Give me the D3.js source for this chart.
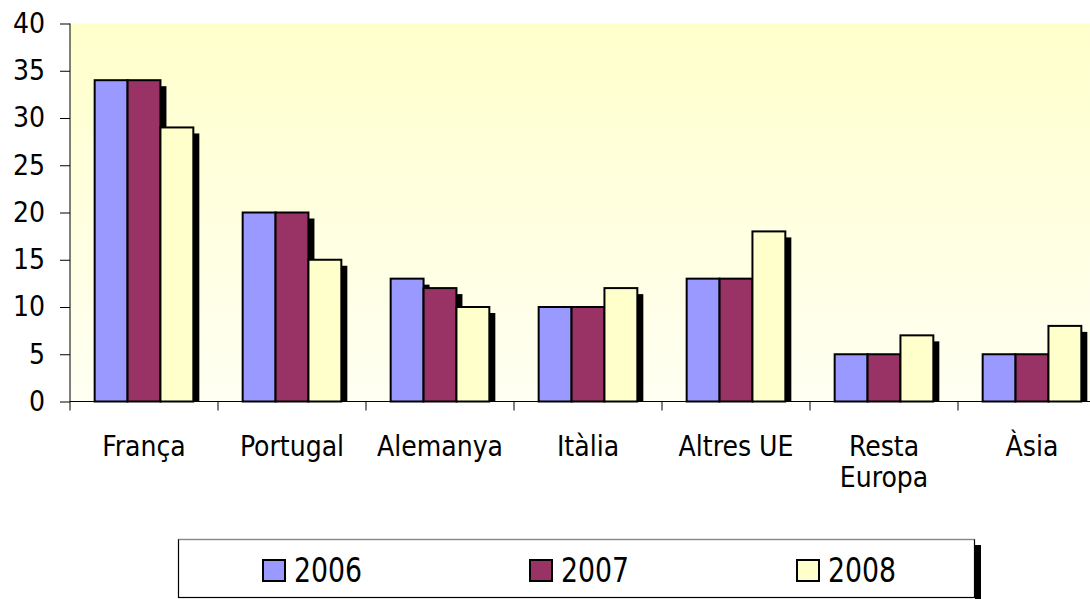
<!DOCTYPE html>
<html>
<head>
<meta charset="utf-8">
<script src="https://cdn.jsdelivr.net/npm/d3@7"></script>
<style>
  html, body { margin: 0; padding: 0; background: #ffffff; }
  svg { display: block; }
  text { font-family: "DejaVu Sans Condensed", "DejaVu Sans", sans-serif; fill: #000; }
</style>
</head>
<body>
<svg id="chart" width="1090" height="599"></svg>
<script>
const categories = ["França", "Portugal", "Alemanya", "Itàlia", "Altres UE", "Resta Europa", "Àsia"];
const years = ["2006", "2007", "2008"];
const values2006 = [34, 20, 13, 10, 13, 5, 5];
const values2007 = [34, 20, 12, 10, 13, 5, 5];
const values2008 = [29, 15, 10, 12, 18, 7, 8];
const yTicks = [0, 5, 10, 15, 20, 25, 30, 35, 40];
const colors = ["#9999FF", "#993366", "#FFFFCC"];

const seriesValues = [values2006, values2007, values2008];

const svg = d3.select("#chart");
const plotLeft = 70, plotTop = 23.5, plotBottom = 401.5;
const step = 148;
const plotRight = plotLeft + step * categories.length;

const defs = svg.append("defs");
const grad = defs.append("linearGradient").attr("id", "bg").attr("x1", 0).attr("y1", 0).attr("x2", 0).attr("y2", 1);
grad.append("stop").attr("offset", "0%").attr("stop-color", "#FFFFCC");
grad.append("stop").attr("offset", "100%").attr("stop-color", "#FFFFF3");

const x = d3.scaleBand().domain(categories).range([plotLeft, plotRight]).paddingInner(0).paddingOuter(0);
const xs = d3.scaleBand().domain(years).range([0, x.bandwidth()]).paddingInner(0).paddingOuter(0.75);
const y = d3.scaleLinear().domain([0, 40]).range([plotBottom, plotTop]);

// plot background
svg.append("rect").attr("x", plotLeft).attr("y", y(40)).attr("width", plotRight - plotLeft).attr("height", y(0) - y(40)).attr("fill", "url(#bg)");

// bars with shadow, series by series
const off = 6;
years.forEach((yr, si) => {
  const g = svg.append("g");
  categories.forEach((c, ci) => {
    const v = seriesValues[si][ci];
    const bx = x(c) + xs(yr);
    const bw = xs.bandwidth();
    g.append("rect").attr("x", bx + off).attr("y", y(v) + off)
      .attr("width", bw).attr("height", Math.max(0, y(0) - y(v) - off))
      .attr("fill", "#000");
    g.append("rect").attr("x", bx).attr("y", y(v))
      .attr("width", bw).attr("height", y(0) - y(v))
      .attr("fill", colors[si]).attr("stroke", "#000").attr("stroke-width", 2);
  });
});

// y axis
const yAxis = d3.axisLeft(y).tickValues(yTicks).tickSize(10).tickPadding(15).tickFormat(d3.format("d"));
const ya = svg.append("g").attr("transform", `translate(${plotLeft},0)`).call(yAxis);
ya.select(".domain").attr("stroke", "#000").attr("d", `M0,${y(40)}V${y(0)}`);
ya.selectAll(".tick line").attr("stroke", "#000");
ya.selectAll(".tick text").attr("font-size", 28).attr("font-family", '"DejaVu Sans Condensed", "DejaVu Sans", sans-serif').attr("fill", "#000");

// x axis line and boundary ticks
const xb = svg.append("g");
xb.append("line").attr("x1", plotLeft).attr("x2", plotRight).attr("y1", y(0)).attr("y2", y(0)).attr("stroke", "#000");
const bounds = categories.map(c => x(c)).concat([plotRight]);
xb.selectAll("line.t").data(bounds).enter().append("line").attr("class", "t")
  .attr("x1", d => d).attr("x2", d => d).attr("y1", y(0)).attr("y2", y(0) + 9).attr("stroke", "#000");

// x labels
const lab = svg.append("g");
categories.forEach(c => {
  const cx = x(c) + x.bandwidth() / 2;
  const parts = c === "Resta Europa" ? ["Resta", "Europa"] : [c];
  const t = lab.append("text").attr("x", cx).attr("y", 456).attr("text-anchor", "middle").attr("font-size", 28);
  parts.forEach((p, i) => t.append("tspan").attr("x", cx).attr("dy", i === 0 ? 0 : 31).text(p));
});

// legend
const lg = svg.append("g");
lg.append("rect").attr("x", 975).attr("y", 545).attr("width", 6).attr("height", 54).attr("fill", "#000");
lg.append("rect").attr("x", 178.5).attr("y", 539.5).attr("width", 796).attr("height", 58).attr("fill", "#fff").attr("stroke", "#000").attr("stroke-width", 1.2);
lg.append("line").attr("x1", 178.5).attr("x2", 974.5).attr("y1", 539.5).attr("y2", 539.5).attr("stroke", "#888").attr("stroke-width", 1.2);
const legX = [263, 530, 797];
years.forEach((yr, i) => {
  lg.append("rect").attr("x", legX[i]).attr("y", 560).attr("width", 22).attr("height", 21)
    .attr("fill", colors[i]).attr("stroke", "#000").attr("stroke-width", 2);
  lg.append("text").attr("x", legX[i] + 31).attr("y", 582).attr("font-size", 33)
    .attr("textLength", 68).attr("lengthAdjust", "spacingAndGlyphs").text(yr);
});
</script>
</body>
</html>
